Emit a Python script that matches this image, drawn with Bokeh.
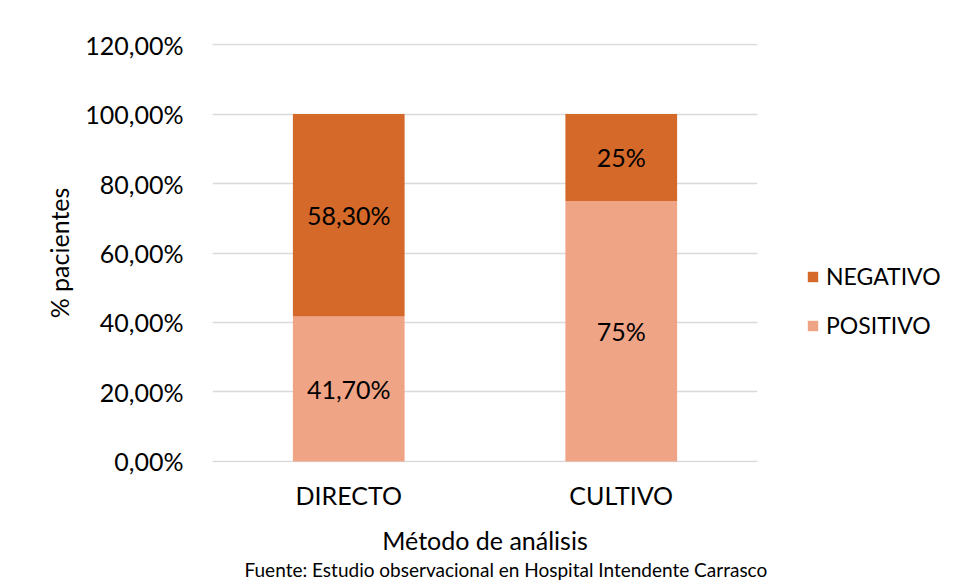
from bokeh.plotting import figure
from bokeh.models import (FactorRange, Range1d, FixedTicker, Legend, LegendItem,
                          ColumnDataSource, Title)
from bokeh.core.properties import value
from bokeh.embed import file_html
from bokeh.resources import INLINE

# ---- data ----
metodos = ["DIRECTO", "CULTIVO"]
positivo = [41.7, 75.0]
negativo = [58.3, 25.0]
positivo_labels = ["41,70%", "75%"]
negativo_labels = ["58,30%", "25%"]
y_ticks = [0, 20, 40, 60, 80, 100, 120]
y_tick_labels = ["0,00%", "20,00%", "40,00%", "60,00%", "80,00%", "100,00%", "120,00%"]
fuente = "Fuente: Estudio observacional en Hospital Intendente Carrasco"

FONT = "Lato"
NEG_COLOR = "#D4692A"
POS_COLOR = "#F0A486"

source = ColumnDataSource(dict(
    metodo=metodos,
    POSITIVO=positivo,
    NEGATIVO=negativo,
    pos_mid=[v / 2 for v in positivo],
    neg_mid=[p + n / 2 for p, n in zip(positivo, negativo)],
    pos_lab=positivo_labels,
    neg_lab=negativo_labels,
))

p = figure(x_range=FactorRange(*metodos, range_padding=0),
           y_range=Range1d(-0.3, 120.3),
           frame_width=545, frame_height=419,
           min_border_left=212, min_border_right=200,
           min_border_top=43, min_border_bottom=118,
           output_backend="svg", toolbar_location=None,
           background_fill_color="white", border_fill_color="white")

renderers = p.vbar_stack(["POSITIVO", "NEGATIVO"], x="metodo", width=0.41,
                         source=source, color=[POS_COLOR, NEG_COLOR],
                         line_color=None)

for ycol, tcol in (("pos_mid", "pos_lab"), ("neg_mid", "neg_lab")):
    p.text(x="metodo", y=ycol, text=tcol, source=source,
           text_align="center", text_baseline="middle",
           text_font=value(FONT), text_font_size="25px", text_color="#000000")

# axes
p.yaxis.ticker = FixedTicker(ticks=y_ticks)
p.yaxis.major_label_overrides = {t: l for t, l in zip(y_ticks, y_tick_labels)}
p.yaxis.axis_label = "% pacientes"
for ax in (p.xaxis[0], p.yaxis[0]):
    ax.axis_line_color = None
    ax.major_tick_line_color = None
    ax.minor_tick_line_color = None
    ax.major_tick_out = 0
    ax.major_tick_in = 0
    ax.major_label_text_font = FONT
    ax.major_label_text_font_size = "25px"
    ax.major_label_text_color = "#000000"
    ax.axis_label_text_font = FONT
    ax.axis_label_text_font_size = "25px"
    ax.axis_label_text_font_style = "normal"
    ax.axis_label_text_color = "#000000"
p.yaxis.major_label_standoff = 29
p.yaxis.axis_label_standoff = 8
p.xaxis.axis_label = "Método de análisis"
p.xaxis.major_label_standoff = 17
p.xaxis.axis_label_standoff = 12

p.xgrid.grid_line_color = None
p.ygrid.grid_line_color = "#D9D9D9"
p.ygrid.grid_line_width = 1.5
p.outline_line_color = None

legend = Legend(items=[LegendItem(label="NEGATIVO", renderers=[renderers[1]]),
                       LegendItem(label="POSITIVO", renderers=[renderers[0]])],
                location=(49, 123), orientation="vertical",
                glyph_width=13, glyph_height=13, label_standoff=7,
                label_text_font=FONT, label_text_font_size="23px",
                label_text_color="#000000", label_height=20,
                spacing=21, padding=0, margin=0,
                border_line_color=None, background_fill_alpha=0)
p.add_layout(legend, "right")

p.add_layout(Title(text=fuente, align="left", offset=32, standoff=0,
                   text_font=FONT, text_font_size="19px",
                   text_font_style="normal", text_line_height=0.5,
                   vertical_align="top", text_color="#000000"), "below")

open("out.html", "w").write(file_html(p, INLINE))
